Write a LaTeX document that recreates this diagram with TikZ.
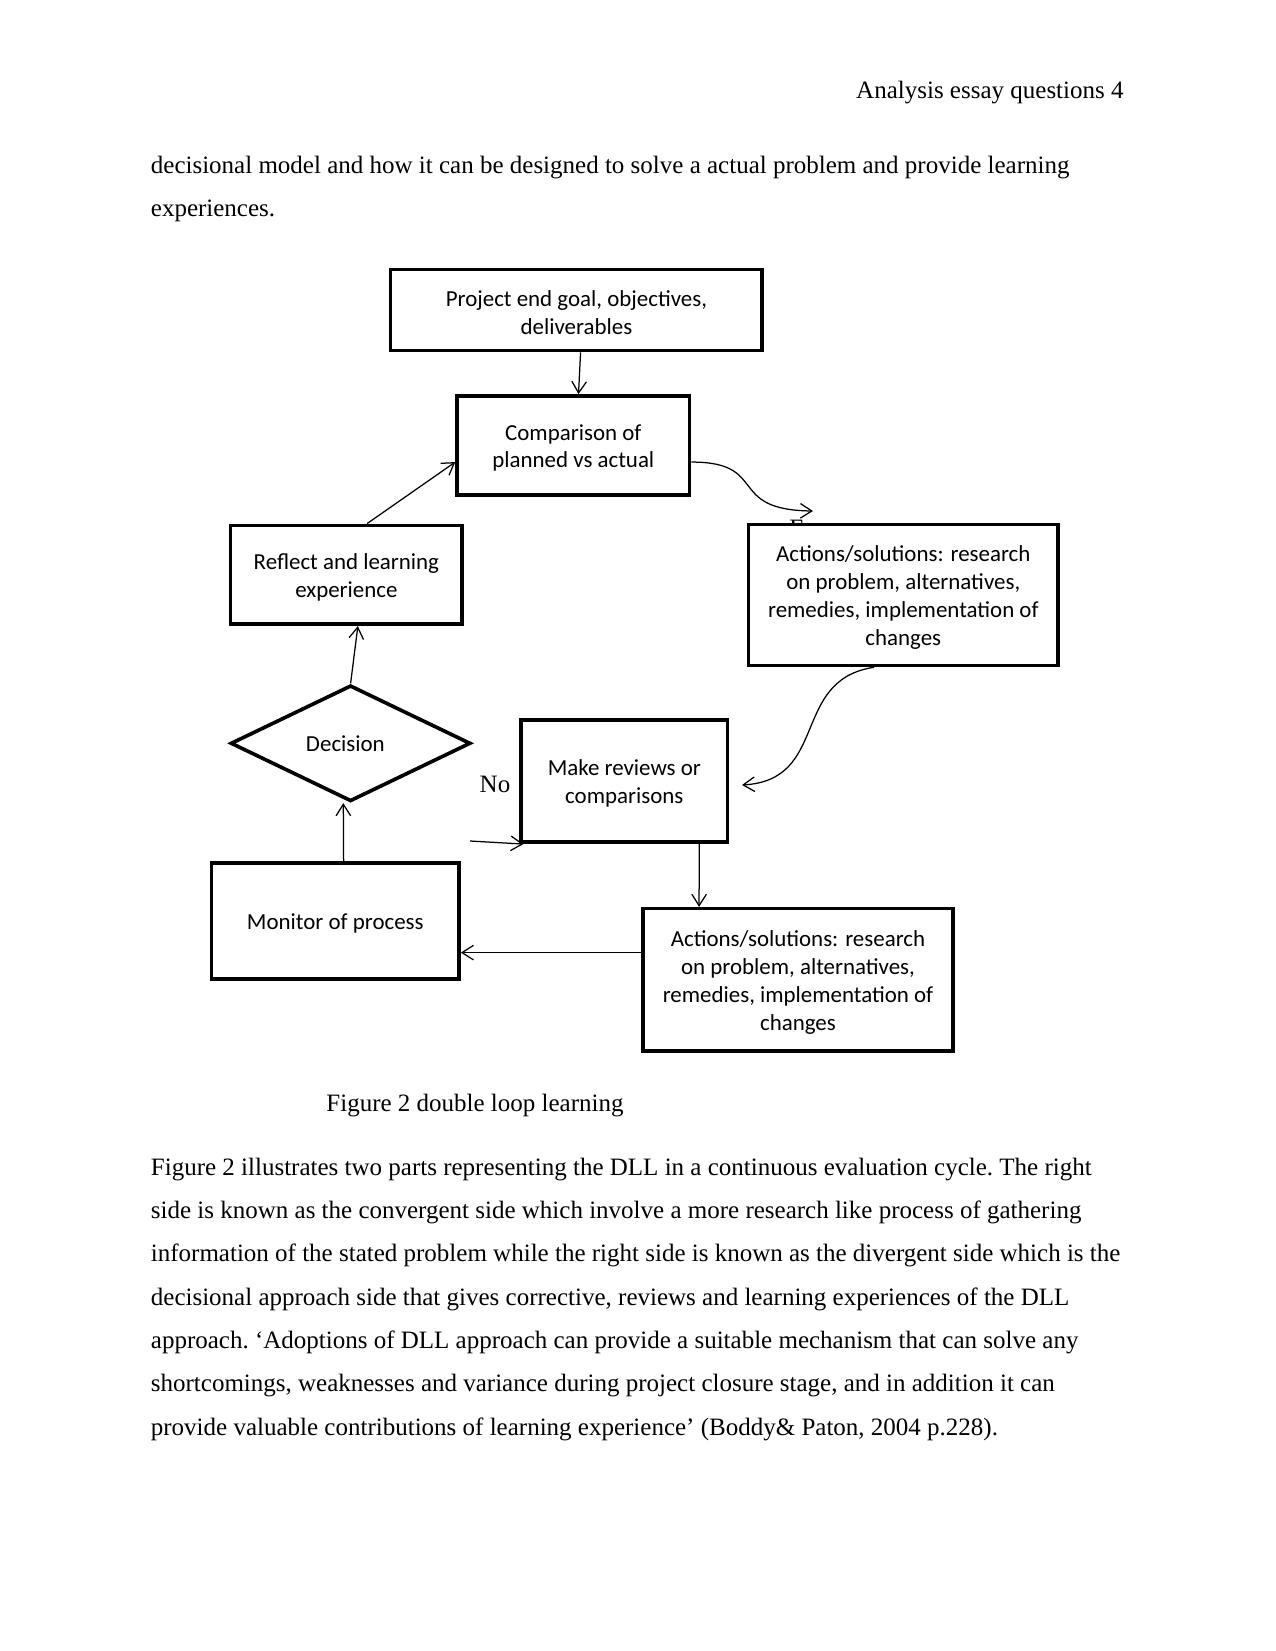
\documentclass[tikz,border=0pt]{standalone}
\usepackage{fontspec}
\setmainfont{Liberation Serif}
\newfontfamily\boxfnt{Carlito}
\usetikzlibrary{shapes.geometric,arrows.meta}
\newcommand{\bodyfnt}{\fontsize{12}{14}\selectfont\frenchspacing}
\newcommand{\topstrut}{\rule{0pt}{10pt}}

\begin{document}
\begin{tikzpicture}[x=0.48pt,y=-0.48pt,
  >={Straight Barb[length=5.5pt,width=7pt]},
  box/.style={draw, line width=1.75pt, fill=white, align=center, inner sep=2pt, font=\boxfnt\fontsize{11}{13.4}\selectfont},
  conn/.style={->, line width=0.6pt},
  txt/.style={anchor=base west, inner sep=0pt, font=\bodyfnt}]
\path[use as bounding box, fill=white] (0,0) rectangle (1275,1651);

% page text above the figure
\node[txt, anchor=base east] (hdr) at (1124,99) {Analysis essay questions 4};
\node[txt] (top1) at (150.5,173.7) {decisional model and how it can be designed to solve a actual problem and provide learning};
\node[txt] (top2) at (150.5,216.9) {experiences.};

% the figure
\node[txt] (frag) at (789,536) {F};
\node[box, minimum width=178.4pt, minimum height=38.9pt] (goal) at (576.4,310) {\topstrut Project end goal, objectives,\\deliverables};
\node[box, minimum width=111.6pt, minimum height=47.5pt] (comp) at (573.3,445.4) {\topstrut Comparison of\\planned vs actual};
\node[box, minimum width=111.2pt, minimum height=47.5pt] (reflect) at (346.4,574.8) {\topstrut Reflect and learning\\experience};
\node[box, minimum width=148.6pt, minimum height=67.7pt] (act1) at (903.3,594.9) {\topstrut Actions/solutions: research\\on problem, alternatives,\\remedies, implementation of\\changes};
\node[box, diamond, aspect=2, inner sep=0pt, minimum width=115.2pt, minimum height=55.7pt] (dec) at (350.6,743.3) {Decision\hspace*{5pt}};
\node[box, minimum width=99.1pt, minimum height=58.6pt] (review) at (624.3,781.2) {\topstrut Make reviews or\\comparisons};
\node[box, minimum width=118.8pt, minimum height=55.6pt] (monitor) at (335.3,921.2) {\topstrut Monitor of process};
\node[box, minimum width=148.6pt, minimum height=68.2pt] (act2) at (798,979.7) {\topstrut Actions/solutions: research\\on problem, alternatives,\\remedies, implementation of\\changes};
\node[txt] (no) at (479.3,792.3) {No};

\coordinate (cend) at (813,511);
\coordinate (rend) at (742,785);
\coordinate (nostart) at (470,841);
\coordinate (a2w) at ([yshift=13pt]act2.west);

\draw[conn] ([xshift=2pt]goal.south) -- ([xshift=2.5pt]comp.north);
\draw[conn] ([xshift=10pt]reflect.north) -- ([yshift=-8pt]comp.west);
\draw[conn] ([yshift=-8pt]comp.east) .. controls (770,462) and (725,510) .. (cend);
\draw[conn] ([xshift=-14pt]act1.south) .. controls (790,680) and (830,780) .. (rend);
\draw[conn] (dec.north) -- ([xshift=5.5pt]reflect.south);
\draw[conn] ([xshift=4pt]monitor.north) -- ([xshift=-3.5pt]dec.south);
\draw[conn] (nostart) -- ([xshift=2pt]review.south west);
\draw[conn] ([xshift=36pt]review.south) -- ([xshift=-47.5pt]act2.north);
\draw[conn] (a2w) -- (a2w -| monitor.east);

% caption and text below
\node[txt] (cap) at (326,1111.7) {Figure 2 double loop learning};
\node[txt] (low1) at (150.5,1175) {Figure 2 illustrates two parts representing the DLL in a continuous evaluation cycle. The right};
\node[txt] (low2) at (150.5,1218.2) {side is known as the convergent side which involve a more research like process of gathering};
\node[txt] (low3) at (150.5,1261.3) {information of the stated problem while the right side is known as the divergent side which is the};
\node[txt] (low4) at (150.5,1305.5) {decisional approach side that gives corrective, reviews and learning experiences of the DLL};
\node[txt] (low5) at (150.5,1348.7) {approach. ‘Adoptions of DLL approach can provide a suitable mechanism that can solve any};
\node[txt] (low6) at (150.5,1391.9) {shortcomings, weaknesses and variance during project closure stage, and in addition it can};
\node[txt] (low7) at (150.5,1435) {provide valuable contributions of learning experience’ (Boddy\& Paton, 2004 p.228).};
\end{tikzpicture}
\end{document}
